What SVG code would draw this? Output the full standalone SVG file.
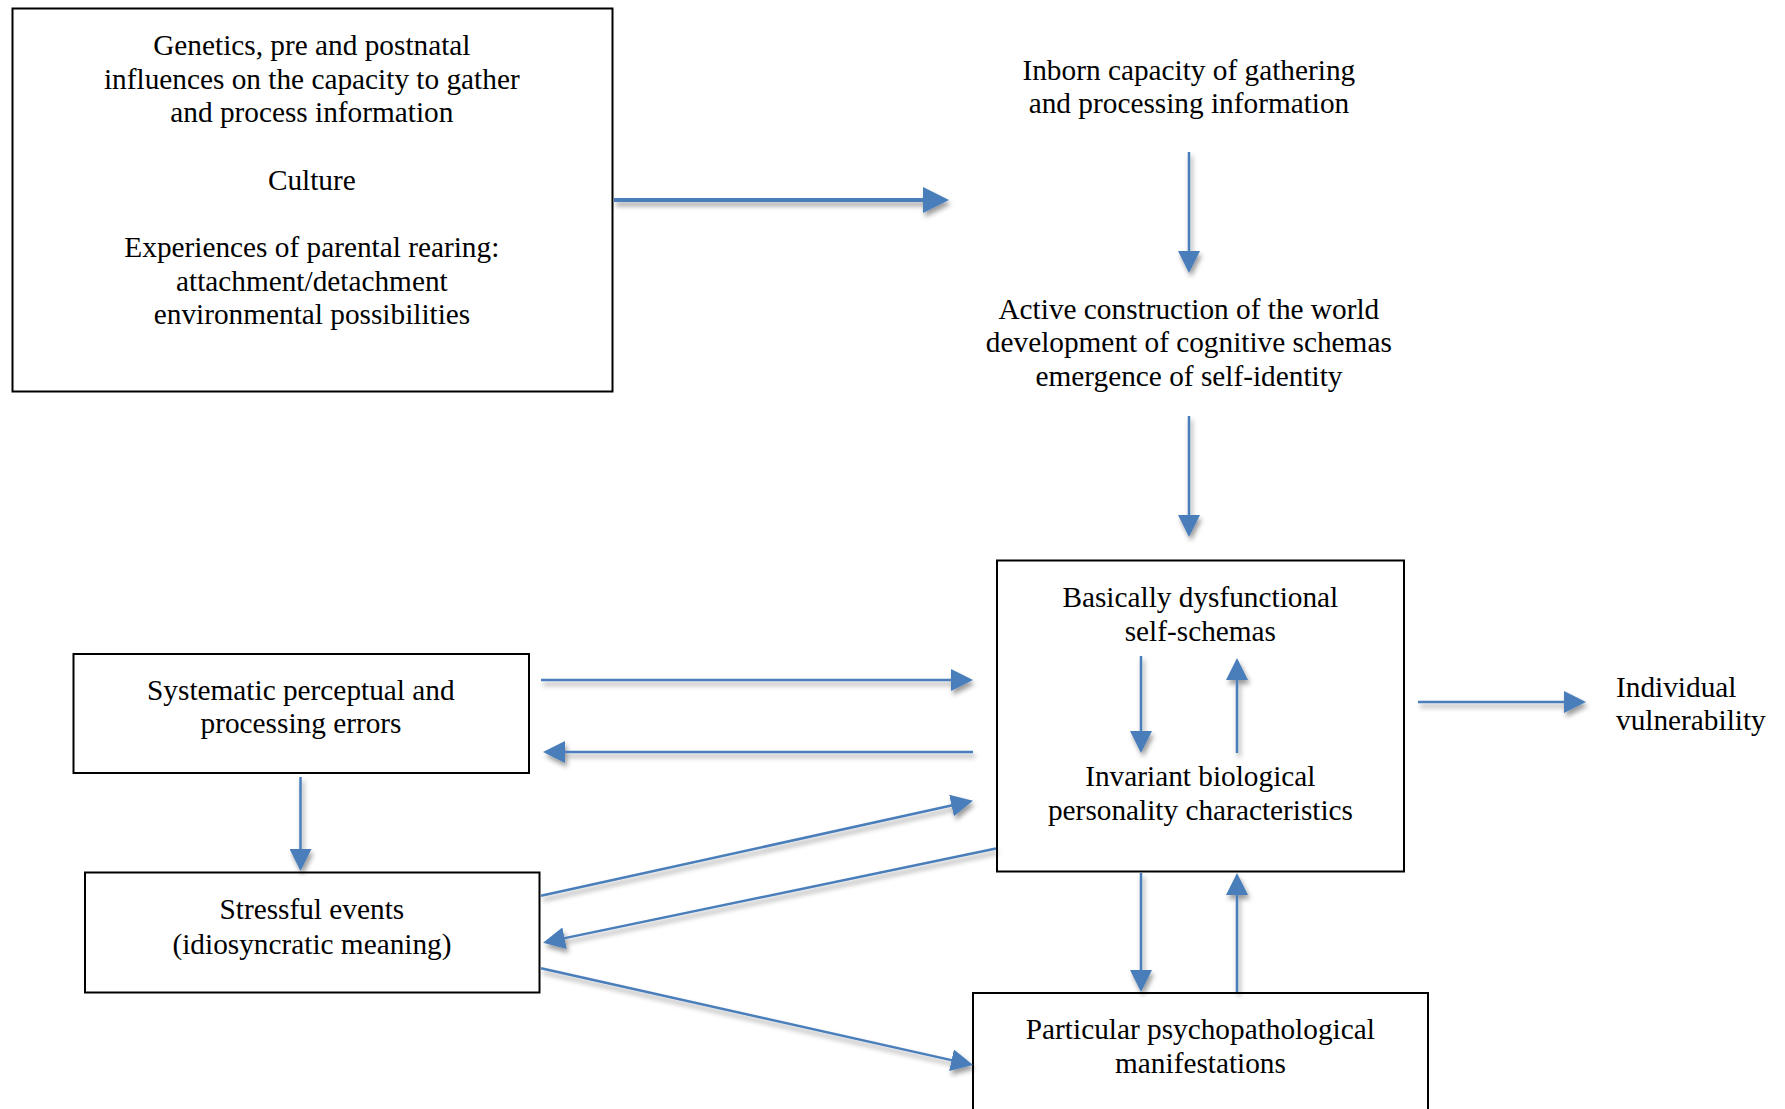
<svg xmlns="http://www.w3.org/2000/svg" width="1785" height="1109" viewBox="0 0 1785 1109">
<style>
  .box { fill: #fff; stroke: #000; stroke-width: 2; }
  .t { font-family: "Liberation Serif", "Times New Roman", serif; font-size: 29.3px; fill: #000; text-anchor: middle; }
  .tl { text-anchor: start; }
  .c { stroke: #4A7EBB; fill: none; stroke-width: 2.5; }
  .thick { stroke-width: 4; }
</style>
<defs>
  <marker id="ah" markerUnits="userSpaceOnUse" markerWidth="22" markerHeight="22" viewBox="0 0 22 22" refX="1" refY="11" orient="auto">
    <path d="M0,0 L22,11 L0,22 Z" fill="#4A7EBB"/>
  </marker>
  <marker id="ahL" markerUnits="userSpaceOnUse" markerWidth="26" markerHeight="26" viewBox="0 0 26 26" refX="1" refY="13" orient="auto">
    <path d="M0,0 L26,13 L0,26 Z" fill="#4A7EBB"/>
  </marker>
  <filter id="sh" x="-10%" y="-10%" width="130%" height="130%">
    <feDropShadow dx="2" dy="4" stdDeviation="2.5" flood-color="#000" flood-opacity="0.4"/>
  </filter>
</defs>
<rect width="1785" height="1109" fill="#fff"/>

<g id="n-influences">
  <rect class="box" x="12.5" y="8.5" width="600" height="383"/>
  <text class="t">
    <tspan x="315.5" y="55">Genetics, pre and postnatal</tspan>
    <tspan x="315.5" y="88.5">influences on the capacity to gather</tspan>
    <tspan x="315.5" y="122">and process information</tspan>
    <tspan x="315.5" y="190">Culture</tspan>
    <tspan x="315.5" y="257">Experiences of parental rearing:</tspan>
    <tspan x="315.5" y="290.5">attachment/detachment</tspan>
    <tspan x="312" y="324">environmental possibilities</tspan>
  </text>
</g>

<g id="n-inborn">
  <text class="t">
    <tspan x="1192.5" y="79.5">Inborn capacity of gathering</tspan>
    <tspan x="1189" y="112.5">and processing information</tspan>
  </text>
</g>

<g id="n-active">
  <text class="t">
    <tspan x="1192.5" y="318.5">Active construction of the world</tspan>
    <tspan x="1192.5" y="352">development of cognitive schemas</tspan>
    <tspan x="1189" y="386">emergence of self-identity</tspan>
  </text>
</g>

<g id="n-schemas">
  <rect class="box" x="997" y="560.5" width="407" height="311"/>
  <text class="t">
    <tspan x="1204" y="607">Basically dysfunctional</tspan>
    <tspan x="1204" y="640.5">self-schemas</tspan>
    <tspan x="1204" y="785.5">Invariant biological</tspan>
    <tspan x="1200.5" y="819.5">personality characteristics</tspan>
  </text>
</g>

<g id="n-vulnerability">
  <text class="t tl">
    <tspan x="1616" y="696.5">Individual</tspan>
    <tspan x="1616" y="729.5">vulnerability</tspan>
  </text>
</g>

<g id="n-errors">
  <rect class="box" x="73.5" y="654" width="455.5" height="119"/>
  <text class="t">
    <tspan x="304.5" y="700">Systematic perceptual and</tspan>
    <tspan x="301" y="732.5">processing errors</tspan>
  </text>
</g>

<g id="n-stress">
  <rect class="box" x="85" y="872.5" width="454.5" height="120"/>
  <text class="t">
    <tspan x="315.5" y="919">Stressful events</tspan>
    <tspan x="312" y="953.5">(idiosyncratic meaning)</tspan>
  </text>
</g>

<g id="n-manifest">
  <rect class="box" x="973" y="993" width="455" height="130"/>
  <text class="t">
    <tspan x="1204" y="1039">Particular psychopathological</tspan>
    <tspan x="1200.5" y="1073">manifestations</tspan>
  </text>
</g>

<g id="connectors" filter="url(#sh)">
  <line class="c thick" x1="614" y1="200" x2="924" y2="200" marker-end="url(#ahL)"/>
  <line class="c" x1="1189" y1="152" x2="1189" y2="252" marker-end="url(#ah)"/>
  <line class="c" x1="1189" y1="416" x2="1189" y2="516" marker-end="url(#ah)"/>
  <line class="c" x1="1141" y1="656" x2="1141" y2="732" marker-end="url(#ah)"/>
  <line class="c" x1="1237" y1="753" x2="1237" y2="679" marker-end="url(#ah)"/>
  <line class="c" x1="1141" y1="873" x2="1141" y2="971" marker-end="url(#ah)"/>
  <line class="c" x1="1237" y1="992" x2="1237" y2="894" marker-end="url(#ah)"/>
  <line class="c" x1="1418" y1="702" x2="1565" y2="702" marker-end="url(#ah)"/>
  <line class="c" x1="541" y1="680" x2="952" y2="680" marker-end="url(#ah)"/>
  <line class="c" x1="973" y1="752" x2="564" y2="752" marker-end="url(#ah)"/>
  <line class="c" x1="300.5" y1="777" x2="300.5" y2="850" marker-end="url(#ah)"/>
  <line class="c" x1="541" y1="895.8" x2="952.5" y2="805.3" marker-end="url(#ah)"/>
  <line class="c" x1="996" y1="848.5" x2="563.6" y2="938.4" marker-end="url(#ah)"/>
  <line class="c" x1="541" y1="968.3" x2="952.5" y2="1060.4" marker-end="url(#ah)"/>
</g>
</svg>
